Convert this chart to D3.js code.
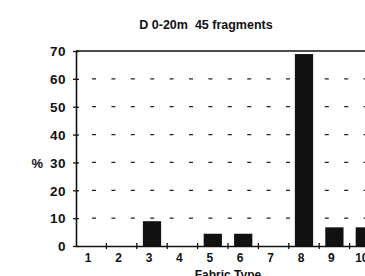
<!DOCTYPE html>
<html><head><meta charset="utf-8">
<script src="https://cdn.jsdelivr.net/npm/d3@7"></script>
<style>body{margin:0;background:#fff}svg{display:block}text{font-family:"Liberation Sans",Arial,sans-serif;fill:#111}</style>
</head><body>
<script>
const categories = ["1","2","3","4","5","6","7","8","9","10"];
const values = [0, 0, 8.9, 0, 4.4, 4.4, 0, 68.9, 6.7, 6.7];
const yTicks = [0,10,20,30,40,50,60,70];
const title = "D 0-20m  45 fragments";
const xTitle = "Fabric Type";
const yTitle = "%";

const W=365,H=276;
const svg=d3.select("body").append("svg").attr("width",W).attr("height",H);
const x0=76, bw=30.4;
const x=d3.scaleBand().domain(categories).range([x0,x0+bw*categories.length]).paddingInner(0.4).paddingOuter(0.2);
const y=d3.scaleLinear().domain([0,70]).range([246,51]);

// dashed gridlines
svg.append("g").selectAll("line").data(yTicks.filter(d=>d>0&&d<70)).join("line")
  .attr("x1",x0+16).attr("x2",W).attr("y1",d=>y(d)).attr("y2",d=>y(d))
  .attr("stroke","#222").attr("stroke-width",1.3).attr("stroke-dasharray","4 15.4");
// top line
svg.append("line").attr("x1",x0).attr("x2",W).attr("y1",y(70)).attr("y2",y(70)).attr("stroke","#111").attr("stroke-width",1.3);

// bars
svg.append("g").selectAll("rect").data(values).join("rect")
  .attr("x",(d,i)=>x(categories[i])).attr("width",x.bandwidth())
  .attr("y",d=>y(d)).attr("height",d=>y(0)-y(d)).attr("fill","#111");

// y axis
const ya=svg.append("g").attr("transform",`translate(${x0},0)`)
  .call(d3.axisLeft(y).tickValues(yTicks).tickSize(0).tickPadding(10));
ya.select(".domain").attr("stroke","#111").attr("stroke-width",1.6);
ya.selectAll("text").attr("font-size",13.5).attr("font-weight","bold").attr("dy","0.35em").attr("letter-spacing","0.5");
ya.selectAll(".tick line").remove();
ya.selectAll(".tick").append("line").attr("x1",-3).attr("x2",3).attr("stroke","#111").attr("stroke-width",1.3);

// x axis
const xa=svg.append("g").attr("transform",`translate(0,${y(0)})`)
  .call(d3.axisBottom(x).tickSize(0).tickPadding(7));
xa.select(".domain").attr("stroke","#111").attr("stroke-width",1.6);
xa.selectAll("text").attr("font-size",12).attr("font-weight","bold").attr("dx","-3");
// boundary tick marks
svg.append("g").selectAll("line").data(d3.range(1,categories.length)).join("line")
  .attr("x1",i=>x0+bw*i).attr("x2",i=>x0+bw*i).attr("y1",y(0)-3).attr("y2",y(0)+3)
  .attr("stroke","#111").attr("stroke-width",1.3);

svg.append("text").attr("x",206).attr("y",29).attr("text-anchor","middle").attr("font-size",12.5).attr("font-weight","bold").style("white-space","pre").text(title);
svg.append("text").attr("x",228).attr("y",279).attr("text-anchor","middle").attr("font-size",12).attr("font-weight","bold").text(xTitle);
svg.append("text").attr("x",43).attr("y",y(30)).attr("dy","0.45em").attr("text-anchor","end").attr("font-size",13).attr("font-weight","bold").text(yTitle);
</script>
</body></html>
